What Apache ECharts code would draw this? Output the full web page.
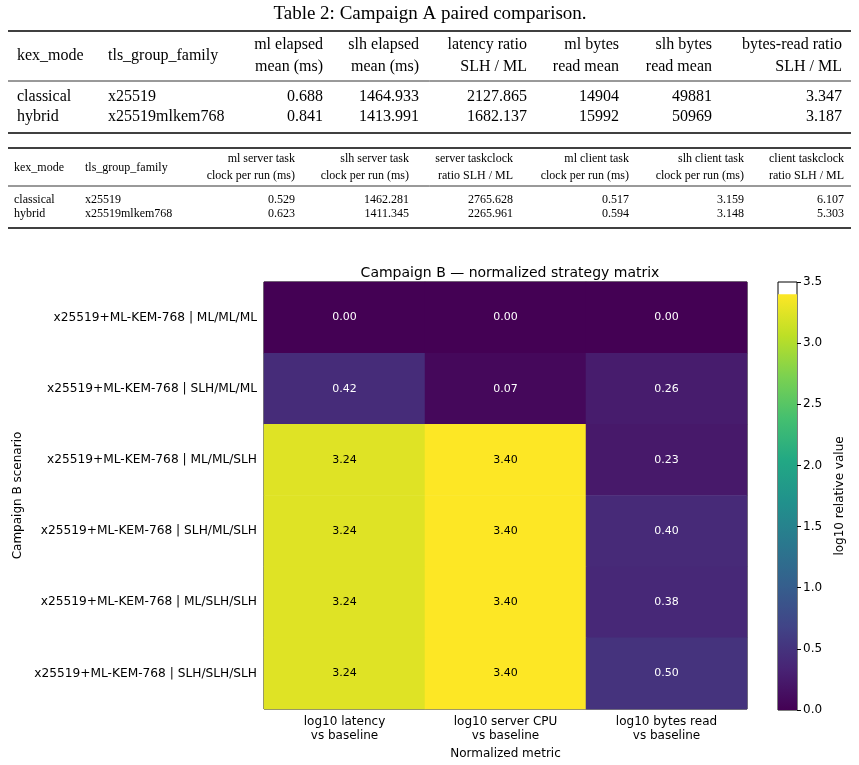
<!DOCTYPE html>
<html>
<head>
<meta charset="utf-8">
<script src="https://cdn.jsdelivr.net/npm/echarts@6/dist/echarts.min.js"></script>
<style>
  html, body { margin: 0; padding: 0; background: #fff; }
  #chart { width: 859px; height: 765px; }
</style>
</head>
<body>
<div id="chart"></div>
<script>
// ---- table data ----
const tableTitle = 'Table 2: Campaign A paired comparison.'
const t1Headers = ['kex_mode', 'tls_group_family', 'ml elapsed\nmean (ms)', 'slh elapsed\nmean (ms)',
  'latency ratio\nSLH / ML', 'ml bytes\nread mean', 'slh bytes\nread mean', 'bytes-read ratio\nSLH / ML']
const t1Rows = [
  ['classical', 'x25519', '0.688', '1464.933', '2127.865', '14904', '49881', '3.347'],
  ['hybrid', 'x25519mlkem768', '0.841', '1413.991', '1682.137', '15992', '50969', '3.187'],
]
const t2Headers = ['kex_mode', 'tls_group_family', 'ml server task\nclock per run (ms)', 'slh server task\nclock per run (ms)',
  'server taskclock\nratio SLH / ML', 'ml client task\nclock per run (ms)', 'slh client task\nclock per run (ms)', 'client taskclock\nratio SLH / ML']
const t2Rows = [
  ['classical', 'x25519', '0.529', '1462.281', '2765.628', '0.517', '3.159', '6.107'],
  ['hybrid', 'x25519mlkem768', '0.623', '1411.345', '2265.961', '0.594', '3.148', '5.303'],
]

// ---- heatmap data ----
const metrics = ['log10 latency\nvs baseline', 'log10 server CPU\nvs baseline', 'log10 bytes read\nvs baseline']
const scenarios = [
  'x25519+ML-KEM-768 | ML/ML/ML',
  'x25519+ML-KEM-768 | SLH/ML/ML',
  'x25519+ML-KEM-768 | ML/ML/SLH',
  'x25519+ML-KEM-768 | SLH/ML/SLH',
  'x25519+ML-KEM-768 | ML/SLH/SLH',
  'x25519+ML-KEM-768 | SLH/SLH/SLH',
]
const latency = [0.00, 0.42, 3.24, 3.24, 3.24, 3.24]
const serverCpu = [0.00, 0.07, 3.40, 3.40, 3.40, 3.40]
const bytesRead = [0.00, 0.26, 0.23, 0.40, 0.38, 0.50]

const viridis = ['#440154', '#482475', '#414487', '#355f8d', '#2a788e', '#21918c',
  '#22a884', '#44bf70', '#7ad151', '#bddf26', '#fde725']
const vMax = 3.4

// ---- build table graphics ----
const serif = '"Liberation Serif", "DejaVu Serif", serif'
const graphics = []
function rule(y, w) {
  graphics.push({ type: 'line', shape: { x1: 8, y1: y, x2: 851, y2: y }, style: { stroke: '#000', lineWidth: w } })
}
function cellText(txt, x, y, align, size, lh) {
  graphics.push({
    type: 'text', x: x, y: y,
    style: { text: txt, font: size + 'px ' + serif, fill: '#000', align: align, verticalAlign: 'middle', lineHeight: lh },
  })
}
function buildTable(headers, rows, colX, size, lh, yTop, yHead, yMid, rowY, yBot) {
  rule(yTop, 1.4)
  headers.forEach((h, i) => cellText(h, colX[i], yHead, i < 2 ? 'left' : 'right', size, lh))
  rule(yMid, 0.8)
  rows.forEach((r, ri) => r.forEach((c, i) => cellText(c, colX[i], rowY[ri], i < 2 ? 'left' : 'right', size, lh)))
  rule(yBot, 1.4)
}
graphics.push({
  type: 'text', x: 430, y: 14,
  style: { text: tableTitle, font: '19px ' + serif, fill: '#000', align: 'center', verticalAlign: 'middle' },
})
buildTable(t1Headers, t1Rows, [17, 108, 323, 419, 527, 619, 712, 842], 16, 22, 31, 56, 81, [97, 117], 133)
buildTable(t2Headers, t2Rows, [14, 85, 295, 409, 513, 629, 744, 844], 12, 17, 148, 167.5, 186, [200, 214], 228)

// ---- heatmap series data ----
const heatData = []
scenarios.forEach((s, yi) => {
  [latency, serverCpu, bytesRead].forEach((arr, xi) => {
    const v = arr[yi]
    heatData.push({ value: [xi, yi, v], label: { color: v > 2 ? '#000' : '#fff' } })
  })
})

const sans = '"DejaVu Sans", sans-serif'
const chart = echarts.init(document.getElementById('chart'))
chart.setOption({
  animation: false,
  textStyle: { fontFamily: sans },
  title: {
    text: 'Campaign B — normalized strategy matrix',
    left: 505, top: 261, textAlign: 'center',
    textStyle: { fontFamily: sans, fontSize: 14, fontWeight: 'normal', color: '#000' },
  },
  graphic: graphics,
  grid: [
    { left: 264, right: 112, top: 282, bottom: 55, show: true, borderColor: '#000', borderWidth: 1, backgroundColor: 'transparent' },
    { left: 778, width: 19, top: 282, bottom: 55, show: true, borderColor: '#000', borderWidth: 1, backgroundColor: 'transparent' },
  ],
  xAxis: [
    {
      type: 'category', gridIndex: 0, data: metrics,
      name: 'Normalized metric', nameLocation: 'middle', nameGap: 39,
      nameTextStyle: { fontFamily: sans, fontSize: 12, color: '#000' },
      axisLine: { show: false },
      axisTick: { alignWithLabel: true, length: 4, lineStyle: { color: '#000' } },
      axisLabel: { fontFamily: sans, fontSize: 12, color: '#000', margin: 6, lineHeight: 14 },
      splitLine: { show: false },
    },
    {
      type: 'category', gridIndex: 1, data: [''],
      axisLine: { show: false }, axisTick: { show: false }, axisLabel: { show: false },
    },
  ],
  yAxis: [
    {
      type: 'category', gridIndex: 0, data: scenarios, inverse: true,
      name: 'Campaign B scenario', nameLocation: 'middle', nameGap: 237, nameRotate: 90,
      nameTextStyle: { fontFamily: sans, fontSize: 12, color: '#000' },
      axisLine: { show: false },
      axisTick: { alignWithLabel: true, length: 4, lineStyle: { color: '#000' } },
      axisLabel: { fontFamily: sans, fontSize: 12.2, color: '#000', margin: 7 },
      splitLine: { show: false },
    },
    {
      type: 'value', gridIndex: 1, min: 0, max: 3.5, interval: 0.5, position: 'right',
      name: 'log10 relative value', nameLocation: 'middle', nameGap: 37, nameRotate: 90,
      nameTextStyle: { fontFamily: sans, fontSize: 12, color: '#000' },
      axisLine: { show: false },
      axisTick: { show: true, length: 4, lineStyle: { color: '#000' } },
      axisLabel: { fontFamily: sans, fontSize: 12, color: '#000', margin: 6, formatter: v => v.toFixed(1) },
      splitLine: { show: false },
    },
  ],
  visualMap: {
    show: false, seriesIndex: 0, min: 0, max: vMax, dimension: 2,
    inRange: { color: viridis },
  },
  series: [
    {
      type: 'heatmap', xAxisIndex: 0, yAxisIndex: 0, data: heatData,
      label: { show: true, fontFamily: sans, fontSize: 11, formatter: p => p.value[2].toFixed(2) },
      itemStyle: { borderWidth: 0 },
      emphasis: { disabled: true },
    },
    {
      type: 'bar', xAxisIndex: 1, yAxisIndex: 1, data: [vMax], barWidth: '100%',
      itemStyle: {
        color: {
          type: 'linear', x: 0, y: 0, x2: 0, y2: 1,
          colorStops: viridis.slice().reverse().map((c, i) => ({ offset: i / (viridis.length - 1), color: c })),
        },
      },
      silent: true,
    },
  ],
})
</script>
</body>
</html>
